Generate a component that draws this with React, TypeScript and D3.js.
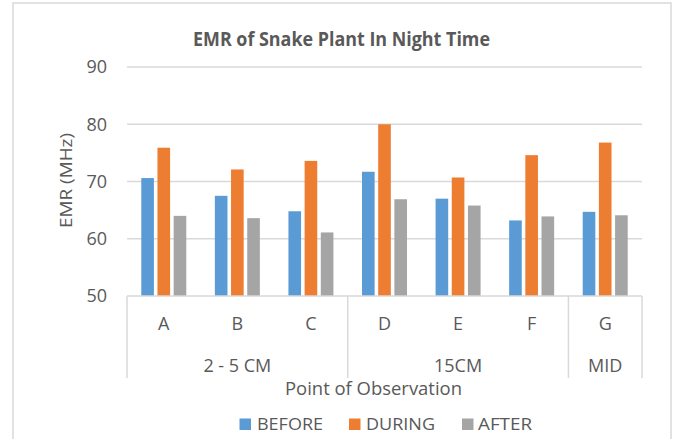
import React from "react";
import * as d3 from "d3";

const categories = ["A", "B", "C", "D", "E", "F", "G"];
const groups = [
  { name: "2 - 5 CM", start: 0, end: 3 },
  { name: "15CM", start: 3, end: 6 },
  { name: "MID", start: 6, end: 7 },
];
const seriesNames = ["BEFORE", "DURING", "AFTER"];
const before = [70.6, 67.5, 64.8, 71.7, 67.0, 63.2, 64.7];
const during = [75.9, 72.1, 73.6, 80.0, 70.7, 74.6, 76.8];
const after = [64.0, 63.6, 61.1, 66.9, 65.8, 63.9, 64.1];
const yTicks = [50, 60, 70, 80, 90];
const colors = ["#5B9BD5", "#ED7D31", "#A5A5A5"];

const W = 675;
const H = 439;
const left = 127;
const right = 642;
const top = 67;
const bottom = 296;
const font = "'Open Sans', Lato, sans-serif";
const textColor = "#595959";
const gridColor = "#d9d9d9";

export default function App() {
  const series = [before, during, after];
  const x = d3.scaleBand<string>().domain(categories).range([left, right]).padding(0);
  const y = d3.scaleLinear().domain([50, 90]).range([bottom, top]);
  const bw = x.bandwidth();
  const groupW = 45;
  const inner = d3
    .scaleBand<string>()
    .domain(seriesNames)
    .range([(bw - groupW) / 2, (bw + groupW) / 2])
    .paddingInner(0.22)
    .paddingOuter(0);

  const groupEdges = [left, ...groups.map((g) => x(categories[g.end - 1])! + bw)];

  const legendItems = [
    { name: "BEFORE", sx: 239.5, tx: 257, tw: 66 },
    { name: "DURING", sx: 349, tx: 366, tw: 69 },
    { name: "AFTER", sx: 462, tx: 478, tw: 54 },
  ];

  return (
    <svg
      width={W}
      height={H}
      style={{ position: "absolute", left: 0, top: 0, background: "#fff" }}
      fontFamily={font}
    >
      <rect x={13} y={3} width={658} height={460} fill="#fff" stroke={gridColor} strokeWidth={1.5} />
      <text
        x={193}
        y={46}
        fontSize={19}
        fontWeight="bold"
        fill={textColor}
        textLength={297}
        lengthAdjust="spacingAndGlyphs"
      >
        EMR of Snake Plant In Night Time
      </text>
      {yTicks.map((t) => (
        <g key={t}>
          {t > 50 && (
            <line x1={left} x2={right} y1={y(t)} y2={y(t)} stroke={gridColor} strokeWidth={1.5} />
          )}
          <text x={107} y={y(t)} dy="0.36em" textAnchor="end" fontSize={18} fill={textColor}>
            {t}
          </text>
        </g>
      ))}
      <text
        transform={`translate(71.5,228) rotate(-90)`}
        fontSize={17}
        fill={textColor}
        textLength={95}
        lengthAdjust="spacingAndGlyphs"
      >
        EMR (MHz)
      </text>
      {categories.map((c, i) => (
        <g key={c} transform={`translate(${x(c)},0)`}>
          {series.map((s, j) => (
            <rect
              key={j}
              x={inner(seriesNames[j])}
              y={y(s[i])}
              width={inner.bandwidth()}
              height={y(50) - y(s[i])}
              fill={colors[j]}
            />
          ))}
          <text x={bw / 2} y={330} textAnchor="middle" fontSize={18} fill={textColor}>
            {c}
          </text>
        </g>
      ))}
      <line x1={left} x2={right} y1={bottom} y2={bottom} stroke={gridColor} strokeWidth={1.5} />
      {groupEdges.map((gx, i) => (
        <line key={i} x1={gx} x2={gx} y1={bottom} y2={378} stroke={gridColor} strokeWidth={1.5} />
      ))}
      {groups.map((g) => {
        const x0 = x(categories[g.start])!;
        const x1 = x(categories[g.end - 1])! + bw;
        return (
          <text key={g.name} x={(x0 + x1) / 2} y={371.5} textAnchor="middle" fontSize={18} fill={textColor}>
            {g.name}
          </text>
        );
      })}
      <text
        x={285}
        y={395}
        fontSize={17.5}
        fill={textColor}
        textLength={177}
        lengthAdjust="spacingAndGlyphs"
      >
        Point of Observation
      </text>
      {legendItems.map((l, i) => (
        <g key={l.name}>
          <rect x={l.sx} y={418.5} width={11.5} height={11.5} fill={colors[i]} />
          <text
            x={l.tx}
            y={429.5}
            fontSize={17}
            fill={textColor}
            textLength={l.tw}
            lengthAdjust="spacingAndGlyphs"
          >
            {l.name}
          </text>
        </g>
      ))}
    </svg>
  );
}
